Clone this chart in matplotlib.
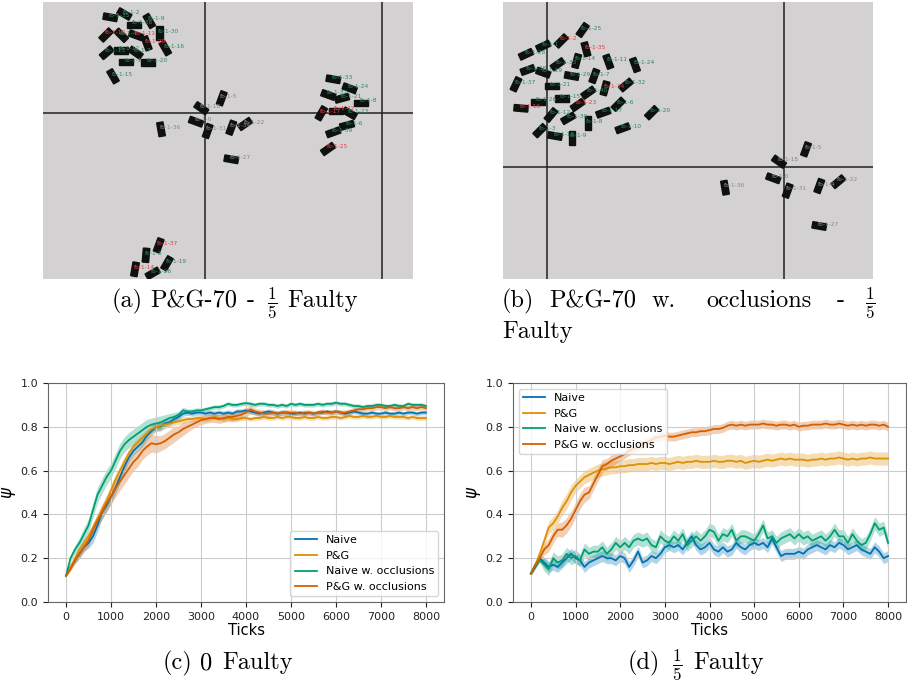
import numpy as np
import matplotlib
matplotlib.use("Agg")
import matplotlib.pyplot as plt
from matplotlib.patches import Rectangle

plt.rcParams['mathtext.fontset'] = 'cm'

W, H = 907, 683

# ---------------- arena snapshots ----------------
# (a) P&G-70, 1/5 faulty
a_x = [124.3, 110.3, 149.3, 133.7, 106, 121.3, 136, 159.3, 146.7, 165.3,
       106.7, 120.7, 135.7, 126, 148.3, 113, 221.7, 201.3, 196, 207.7,
       231.3, 245, 161, 231.3, 333.3, 349.7, 328.3, 342, 361, 321.3,
       335.7, 349.7, 347, 333.3, 328, 158.7, 146, 167, 135, 152.7]
a_y = [14, 17.3, 21, 25, 35, 35.3, 35.3, 33.3, 43.3, 48.3,
       52.7, 50.3, 52.7, 62, 62.3, 76.3, 98.3, 108.3, 121.7, 131,
       127.7, 124, 129.3, 159.3, 79.3, 88.3, 95, 98.3, 102.7, 113.3,
       110.7, 113.3, 125.3, 132.3, 149, 245.3, 255.3, 263.3, 269.3, 273.3]
a_angle = [-30, -10, -60, 0, 45, -45, -20, 90, -70, -60,
           40, 0, -35, 0, 0, -60, 70, -35, -20, 70,
           70, 35, -80, -10, -10, -20, -20, 15, 0, 60,
           0, -30, 15, 20, 35, 70, 85, 60, 80, 30]
a_names = ['fb-1-2', 'fb-1-35', 'fb-1-9', 'fb-1-38', 'fb-1-10', 'fb-1-4', 'fb-1-11', 'fb-1-30',
           'fb-1-29', 'fb-1-16', 'fb-1-13', 'fb-1-12', 'fb-1-7', 'fb-1-1', 'fb-1-20', 'fb-1-15',
           'fb-1-5', 'fb-1-18', 'fb-1-0', 'fb-1-31', 'fb-1-34', 'fb-1-22', 'fb-1-36', 'fb-1-27',
           'fb-1-33', 'fb-1-24', 'fb-1-32', 'fb-1-21', 'fb-1-8', 'fb-1-17', 'fb-1-42', 'fb-1-23',
           'fb-1-6', 'fb-1-39', 'fb-1-25', 'fb-1-37', 'fb-1-3', 'fb-1-19', 'fb-1-14', 'fb-1-26']
a_kind = ['g', 'g', 'g', 'g', 'r', 'g', 'r', 'g', 'r', 'g', 'g', 'g', 'g', 'g', 'g', 'g',
          'k', 'k', 'k', 'k', 'k', 'k', 'k', 'k',
          'g', 'g', 'g', 'g', 'g', 'r', 'r', 'g', 'g', 'g', 'r',
          'r', 'g', 'g', 'r', 'g']

# (b) P&G-70 with occlusions, 1/5 faulty
b_x = [582.7, 561.3, 543.3, 586, 526, 576.7, 557.7, 608.3, 635, 527.7,
       543.3, 571.7, 594.3, 516, 551.7, 605, 626, 588.3, 561.7, 537.7,
       577.7, 521, 618.3, 603.3, 651.7, 551, 568.3, 587.7, 622.7, 540,
       555, 571.7, 806, 779, 773.3, 725, 787.7, 819.3, 838.3, 819.3]
b_y = [30, 41, 46, 49.3, 54.3, 61, 64.3, 61.7, 65, 70,
       72.7, 76, 76, 84.3, 86, 88.3, 85, 92.7, 98.3, 101.7,
       105, 108.3, 104.3, 112.7, 112.7, 115, 118.3, 123.3, 128.3, 130.7,
       136, 137.7, 149.3, 161.7, 178.3, 187.7, 190.7, 186, 181.7, 226]
b_angle = [55, 45, 25, -75, 25, 75, 35, -70, -70, 20,
           -20, -10, 70, 65, 0, 75, 40, 35, 0, 0,
           35, -5, 45, 20, 45, 50, 30, 90, 20, 45,
           -10, 90, 70, -35, -20, -80, 70, 70, 40, -10]
b_names = ['fb-1-25', 'fb-1-2', 'fb-1-1', 'fb-1-35', 'fb-1-28', 'fb-1-14', 'fb-1-33', 'fb-1-11',
           'fb-1-24', 'fb-1-38', 'fb-1-19', 'fb-1-29', 'fb-1-7', 'fb-1-37', 'fb-1-21', 'fb-1-34',
           'fb-1-32', 'fb-1-40', 'fb-1-15', 'fb-1-26', 'fb-1-23', 'fb-1-16', 'fb-1-6', 'fb-1-17',
           'fb-1-20', 'fb-1-12', 'fb-1-30', 'fb-1-8', 'fb-1-10', 'fb-1-3', 'fb-1-13', 'fb-1-9',
           'fb-1-5', 'fb-1-18', 'fb-1-0', 'fb-1-36', 'fb-1-31', 'fb-1-4', 'fb-1-22', 'fb-1-27']
b_kind = ['g', 'r', 'g', 'r', 'g', 'g', 'g', 'g', 'g', 'g',
          'g', 'g', 'g', 'g', 'g', 'r', 'g', 'g', 'g', 'g',
          'r', 'r', 'g', 'g', 'g', 'g', 'g', 'g', 'g', 'g',
          'g', 'g', 'k', 'k', 'k', 'k', 'k', 'k', 'k', 'k']

# ---------------- psi curves ----------------
ticks = np.arange(0, 8001, 100)
labels = ['Naive', 'P&G', 'Naive w. occlusions', 'P&G w. occlusions']
colors = ['#0173b2', '#de8f05', '#029e73', '#d55e00']

c_naive = [.12, .16, .19, .22, .25, .27, .30, .35, .41, .44, .48, .52, .57, .62, .66, .69, .71, .73, .76, .78,
           .80, .80, .815, .82, .835, .845, .86, .865, .86, .865, .865, .86, .865, .86, .865, .86, .865, .86, .87, .87,
           .875, .87, .865, .86, .865, .87, .865, .86, .865, .865, .86, .86, .865, .86, .865, .86, .865, .865, .87, .865,
           .87, .865, .86, .865, .87, .865, .86, .86, .865, .86, .86, .865, .86, .86, .865, .86, .865, .865, .86, .865, .865]
c_pg = [.12, .16, .20, .24, .27, .30, .34, .38, .42, .46, .51, .56, .60, .64, .68, .71, .73, .75, .77, .79,
        .80, .805, .81, .815, .82, .825, .83, .835, .835, .84, .84, .835, .84, .845, .84, .835, .84, .835, .835, .84,
        .84, .835, .84, .84, .845, .84, .84, .845, .84, .845, .845, .84, .84, .845, .84, .84, .845, .84, .84, .845,
        .845, .84, .845, .85, .845, .845, .85, .845, .845, .85, .845, .845, .85, .845, .845, .845, .84, .845, .84, .84, .84]
c_naive_occ = [.12, .20, .24, .27, .31, .35, .42, .49, .53, .57, .60, .645, .69, .72, .74, .755, .77, .785, .80, .81,
               .815, .82, .83, .84, .845, .855, .875, .87, .87, .875, .875, .88, .885, .89, .89, .895, .905, .90, .90, .905,
               .908, .905, .90, .905, .905, .90, .90, .895, .90, .895, .905, .90, .905, .90, .90, .90, .905, .90, .905, .905,
               .91, .905, .905, .90, .895, .895, .89, .895, .895, .90, .90, .895, .895, .90, .895, .895, .905, .90, .90, .90, .895]
c_pg_occ = [.12, .15, .19, .22, .25, .28, .33, .37, .41, .45, .48, .52, .55, .58, .61, .64, .66, .69, .71, .725,
            .72, .725, .735, .75, .765, .775, .79, .80, .81, .82, .83, .835, .84, .84, .835, .84, .845, .845, .85, .855,
            .865, .88, .87, .865, .86, .86, .865, .86, .865, .865, .865, .865, .86, .865, .865, .86, .865, .87, .865, .865,
            .87, .865, .865, .87, .875, .88, .88, .885, .885, .89, .89, .885, .89, .885, .885, .89, .885, .89, .885, .89, .885]

c_naive_sd = [.005, .01, .015, .02, .02, .025, .03, .03, .03, .03, .03, .025, .025, .025, .02, .02, .02, .02, .02, .02,
              .02, .02, .02, .015, .015, .015, .012, .012, .012, .012, .012, .012, .012, .012, .012, .012, .012, .012, .012, .012,
              .012, .012, .012, .012, .012, .012, .012, .012, .012, .012, .01, .01, .01, .01, .01, .01, .01, .01, .01, .01,
              .01, .01, .01, .01, .01, .01, .01, .01, .01, .01, .01, .01, .01, .01, .01, .01, .01, .01, .01, .01, .01]
c_pg_sd = [.005, .01, .015, .015, .02, .02, .02, .025, .025, .025, .025, .025, .025, .025, .02, .02, .02, .02, .02, .02,
           .02, .02, .015, .015, .015, .015, .015, .012, .012, .012, .012, .012, .012, .012, .012, .012, .012, .012, .012, .012,
           .01, .01, .01, .01, .01, .01, .01, .01, .01, .01, .01, .01, .01, .01, .01, .01, .01, .01, .01, .01,
           .01, .01, .01, .01, .01, .01, .01, .01, .01, .01, .01, .01, .01, .01, .01, .01, .01, .01, .01, .01, .01]
c_naive_occ_sd = [.005, .015, .02, .025, .03, .03, .035, .035, .035, .035, .035, .035, .035, .035, .035, .035, .035, .035, .035, .03,
                  .03, .03, .025, .02, .02, .015, .015, .012, .012, .012, .01, .01, .01, .01, .01, .01, .01, .01, .01, .01,
                  .01, .01, .01, .01, .01, .01, .01, .01, .01, .01, .01, .01, .01, .01, .01, .01, .01, .01, .01, .01,
                  .01, .01, .01, .01, .01, .01, .01, .01, .01, .01, .01, .01, .01, .01, .01, .01, .01, .01, .01, .01, .01]
c_pg_occ_sd = [.005, .01, .015, .02, .02, .025, .03, .03, .035, .035, .035, .04, .04, .04, .04, .04, .04, .04, .04, .04,
               .04, .035, .035, .035, .035, .03, .03, .025, .02, .02, .02, .02, .02, .02, .02, .02, .02, .02, .02, .02,
               .02, .02, .015, .015, .015, .015, .012, .012, .012, .012, .012, .012, .012, .012, .012, .012, .012, .012, .012, .012,
               .012, .012, .012, .012, .012, .012, .012, .012, .012, .012, .012, .012, .012, .012, .012, .012, .012, .012, .012, .012, .012]

d_naive = [.13, .16, .20, .18, .16, .17, .16, .18, .20, .22, .20, .19, .16, .18, .19, .20, .21, .20, .20, .19,
           .21, .20, .16, .19, .23, .18, .19, .21, .20, .22, .25, .26, .25, .26, .24, .27, .30, .26, .24, .25,
           .27, .24, .23, .25, .23, .24, .27, .25, .24, .26, .27, .26, .27, .25, .29, .25, .21, .22, .22, .22,
           .23, .22, .24, .25, .26, .25, .24, .26, .25, .27, .26, .24, .25, .26, .24, .23, .22, .25, .23, .20, .21]
d_pg = [.13, .17, .22, .28, .34, .36, .39, .43, .46, .50, .53, .55, .57, .58, .59, .60, .605, .61, .615, .615,
        .62, .62, .625, .625, .63, .63, .63, .635, .63, .635, .635, .63, .635, .64, .635, .64, .64, .645, .64, .64,
        .64, .645, .64, .64, .645, .645, .64, .645, .635, .64, .645, .64, .645, .65, .645, .65, .655, .65, .655, .65,
        .65, .65, .645, .65, .65, .655, .65, .655, .655, .66, .655, .65, .655, .65, .655, .655, .66, .655, .655, .655, .655]
d_naive_occ = [.13, .17, .19, .17, .15, .20, .18, .19, .22, .20, .21, .19, .24, .22, .23, .23, .25, .22, .24, .27,
               .25, .27, .25, .28, .29, .28, .29, .26, .25, .30, .28, .27, .30, .28, .31, .26, .28, .30, .28, .30,
               .33, .32, .28, .31, .30, .33, .28, .30, .30, .29, .28, .31, .35, .29, .30, .27, .29, .30, .31, .29,
               .31, .29, .30, .28, .29, .30, .28, .30, .33, .30, .30, .27, .31, .28, .26, .27, .31, .36, .33, .34, .27]
d_pg_occ = [.13, .17, .20, .24, .26, .30, .33, .33, .35, .38, .42, .46, .49, .50, .54, .58, .62, .63, .645, .655,
            .665, .675, .69, .70, .71, .72, .73, .74, .75, .755, .76, .755, .755, .76, .765, .77, .775, .775, .78, .78,
            .785, .79, .79, .795, .805, .81, .805, .81, .805, .81, .81, .81, .815, .81, .81, .805, .81, .81, .805, .81,
            .80, .805, .805, .81, .81, .81, .815, .81, .81, .815, .81, .805, .81, .805, .81, .805, .81, .81, .805, .81, .80]

d_naive_sd = [.01] * 3 + [.025] * 78
d_pg_sd = [.01, .015, .02, .025, .03, .03, .03, .035, .035, .035] + [.03] * 71
d_naive_occ_sd = [.01] * 3 + [.03] * 78
d_pg_occ_sd = [.01, .015, .02, .025, .03, .03, .03, .035, .035, .035, .035, .035, .035, .03, .03, .03, .03, .025, .025, .025] + [.02] * 61

ARENA_GREY = '#d3d1d2'
LABEL_COL = {'g': '#2f8a62', 'r': '#f03a3a', 'k': '#8a8a8a'}


def fig_rect(x0, y0, x1, y1):
    return [x0 / W, 1 - y1 / H, (x1 - x0) / W, (y1 - y0) / H]


def draw_arena(ax, box, vlines, hline, xs, ys, angles, names, kinds):
    x0, y0, x1, y1 = box
    ax.set_xlim(x0, x1)
    ax.set_ylim(y1, y0)
    ax.set_facecolor(ARENA_GREY)
    ax.set_xticks([])
    ax.set_yticks([])
    for s in ax.spines.values():
        s.set_visible(False)
    for vx in vlines:
        ax.axvline(vx, color='#202020', lw=1.1, zorder=1)
    ax.axhline(hline, color='#202020', lw=1.1, zorder=1)
    for cx, cy, ang, name, kind in zip(xs, ys, angles, names, kinds):
        ax.add_patch(Rectangle((cx - 7, cy - 3.2), 14, 6.4, angle=-ang,
                               rotation_point='center', color='#0e120f', zorder=3))
        ax.text(cx - 1.5, cy - 2, name, color=LABEL_COL[kind], fontsize=4.2,
                ha='left', va='center', zorder=4)


def draw_psi(ax, series, sds, legend_loc):
    for vals, sd, lab, col in zip(series, sds, labels, colors):
        vals = np.array(vals)
        sd = np.array(sd)
        ax.fill_between(ticks, vals - sd, vals + sd, color=col, alpha=0.3, lw=0)
        ax.plot(ticks, vals, color=col, lw=1.3, label=lab)
    ax.set_xlim(-400, 8400)
    ax.set_ylim(0, 1.0)
    ax.set_xticks(range(0, 8001, 1000))
    ax.set_yticks(np.arange(0, 1.01, 0.2))
    ax.tick_params(labelsize=8, colors='#222222')
    ax.grid(True, color='#cccccc', lw=0.8)
    for s in ax.spines.values():
        s.set_color('#666666')
    ax.set_xlabel('Ticks', fontsize=10.5, labelpad=1)
    ax.set_ylabel(r'$\psi$', fontsize=12, labelpad=2, math_fontfamily='dejavusans')
    ax.legend(loc=legend_loc, fontsize=8)


fig = plt.figure(figsize=(W / 100, H / 100), dpi=100)

ax_a = fig.add_axes(fig_rect(43, 2, 413, 279))
draw_arena(ax_a, (43, 2, 413, 279), [205, 382], 113, a_x, a_y, a_angle, a_names, a_kind)

ax_b = fig.add_axes(fig_rect(503, 2, 873, 279))
draw_arena(ax_b, (503, 2, 873, 279), [547, 784], 167, b_x, b_y, b_angle, b_names, b_kind)

ax_c = fig.add_axes(fig_rect(48, 383, 444, 602))
draw_psi(ax_c, [c_naive, c_pg, c_naive_occ, c_pg_occ],
         [c_naive_sd, c_pg_sd, c_naive_occ_sd, c_pg_occ_sd], 'lower right')

ax_d = fig.add_axes(fig_rect(513, 383, 906, 602))
draw_psi(ax_d, [d_naive, d_pg, d_naive_occ, d_pg_occ],
         [d_naive_sd, d_pg_sd, d_naive_occ_sd, d_pg_occ_sd], 'upper left')

# captions, word by word to mimic the justified LaTeX layout
cap = dict(family='cmr10', fontsize=17.5, va='baseline', ha='left')
frac = r'$\frac{1}{5}$'
caption_words = [
    (307, [('(a)', 112), ('P&G-70', 150), ('-', 247), (frac, 267), ('Faulty', 287)]),
    (307, [('(b)', 502), ('P&G-70', 549), ('w.', 652), ('occlusions', 706), ('-', 837), (frac, 865)]),
    (338, [('Faulty', 502)]),
    (669, [('(c)', 163), ('0', 200), ('Faulty', 222)]),
    (669, [('(d)', 628), (frac, 672), ('Faulty', 693)]),
]
for base_y, words in caption_words:
    for word, px in words:
        fig.text(px / W, 1 - base_y / H, word, **cap)

fig.savefig('out.png', dpi=100)
